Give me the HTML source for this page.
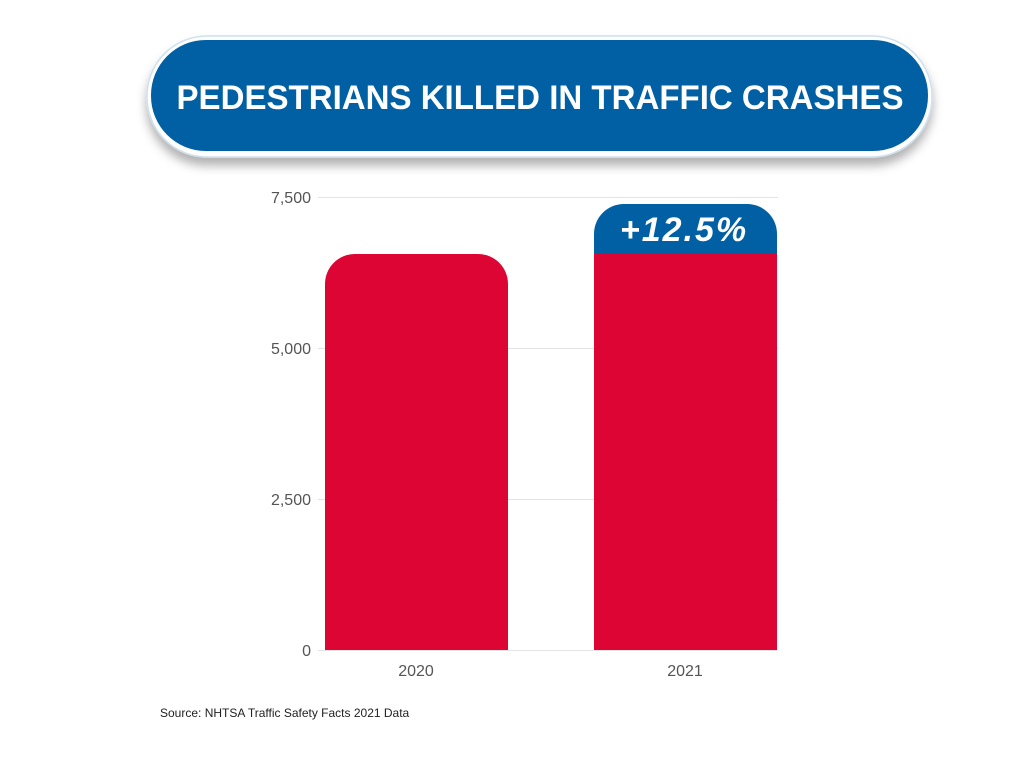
<!DOCTYPE html><html><head><style>body{margin:0;background:#fff}</style></head><body>
<svg width="1024" height="768" xmlns="http://www.w3.org/2000/svg" font-family="Liberation Sans, sans-serif">
<defs><filter id="s" x="-10%" y="-30%" width="120%" height="180%"><feDropShadow dx="0" dy="8" stdDeviation="5" flood-color="#000" flood-opacity="0.3"/></filter></defs>
<rect x="147" y="36" width="785" height="121" rx="60" fill="#fff" stroke="#cfe0ee" stroke-width="1.5" filter="url(#s)"/>
<rect x="151" y="40" width="777" height="111" rx="55" fill="#0060a3"/>
<text x="540" y="109" text-anchor="middle" font-size="34" font-weight="bold" fill="#fff" textLength="727" lengthAdjust="spacingAndGlyphs">PEDESTRIANS KILLED IN TRAFFIC CRASHES</text>
<g stroke="#e3e3e3" stroke-width="1"><line x1="318" y1="197.5" x2="778" y2="197.5"/><line x1="318" y1="348.5" x2="778" y2="348.5"/><line x1="318" y1="499.5" x2="778" y2="499.5"/><line x1="318" y1="650.5" x2="778" y2="650.5"/></g>
<g font-size="16" fill="#555" text-anchor="end"><text x="311" y="203">7,500</text><text x="311" y="354">5,000</text><text x="311" y="505">2,500</text><text x="311" y="656">0</text></g>
<path d="M325 650 V284 A30 30 0 0 1 355 254 H478 A30 30 0 0 1 508 284 V650 Z" fill="#dc0533"/>
<path d="M594 254 V234 A30 30 0 0 1 624 204 H747 A30 30 0 0 1 777 234 V254 Z" fill="#0060a3"/>
<rect x="594" y="254" width="183" height="396" fill="#dc0533"/>
<text x="684" y="241" text-anchor="middle" font-size="34" font-weight="bold" font-style="italic" fill="#fff" letter-spacing="2">+12.5%</text>
<g font-size="16" fill="#555" text-anchor="middle"><text x="416" y="676">2020</text><text x="685" y="676">2021</text></g>
<text x="160" y="717" font-size="12" fill="#222">Source: NHTSA Traffic Safety Facts 2021 Data</text>
</svg></body></html>
